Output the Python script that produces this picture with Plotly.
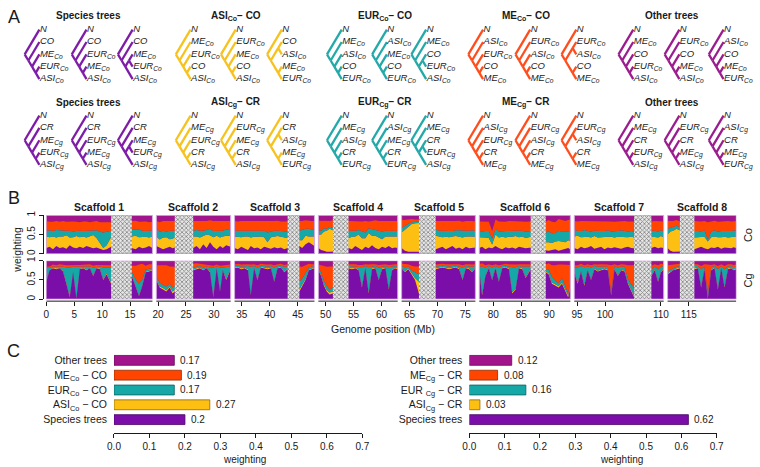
import plotly.graph_objects as go

W, H = 760, 467
FONT = "Liberation Sans, Arial, Helvetica, sans-serif"
INK = "#1a1a1a"

COL_SP = "#7B0DA8"
COL_ASI = "#FDBF12"
COL_EUR = "#15A8A6"
COL_ME = "#FF4500"
COL_OTH = "#A2148C"
EDGE_SP = "#4a0566"
EDGE_ASI = "#8a6a10"
EDGE_EUR = "#0c605f"
EDGE_ME = "#8f2a00"
EDGE_OTH = "#5e0b51"
BORDER = "#D5ACE2"

# ---------------- Panel A: tree topologies (tokens N, C, A=ASI, E=EUR, M=ME)
GROUP_TITLES_CO = ["Species trees", "ASI<sub>Co</sub>− CO", "EUR<sub>Co</sub>− CO", "ME<sub>Co</sub>− CO", "Other trees"]
GROUP_TITLES_CG = ["Species trees", "ASI<sub>Cg</sub>− CR", "EUR<sub>Cg</sub>− CR", "ME<sub>Cg</sub>− CR", "Other trees"]
TREES_SPECIES = [("N", ("C", ("M", ("E", "A")))), ("N", ("C", ("E", ("M", "A")))), ("N", ("C", (("M", "E"), "A")))]
TREES_ASI = [("N", ("M", ("E", ("C", "A")))), ("N", ("E", ("M", ("C", "A")))), ("N", (("C", "A"), ("M", "E")))]
TREES_EUR = [("N", ("M", ("A", ("C", "E")))), ("N", ("A", ("M", ("C", "E")))), ("N", ("M", (("C", "E"), "A")))]
TREES_ME = [("N", ("A", ("E", ("C", "M")))), ("N", ("E", ("A", ("C", "M")))), ("N", (("E", "A"), ("C", "M")))]
TREES_OTHER = [("N", ("M", ("C", ("E", "A")))), ("N", ("E", ("C", ("M", "A")))), ("N", ("A", ("C", ("M", "E"))))]
TREE_GROUPS = [TREES_SPECIES, TREES_ASI, TREES_EUR, TREES_ME, TREES_OTHER]
TREE_COLORS = ["#7E1CA8", "#F7C21C", "#22A9A8", "#FF4D1C", "#9B1C8F"]

# ---------------- Panel B: topology weightings along the genome (Mb)
SCAFFOLD_NAMES = ["Scaffold 1", "Scaffold 2", "Scaffold 3", "Scaffold 4",
                  "Scaffold 5", "Scaffold 6", "Scaffold 7", "Scaffold 8"]
GAP_START = [11.6, 23.0, 43.2, 51.3, 66.7, 86.7, 105.2, 113.4]
GAP_END = [15.3, 26.3, 45.3, 54.1, 69.7, 89.4, 108.3, 116.0]
X_TICKS = [0, 5, 10, 15, 20, 25, 30, 35, 40, 45, 50, 55, 60, 65, 70, 75, 80, 85, 90, 95, 100, 110, 115]

S1_X = [0, 0.6, 1.2, 1.8, 2.4, 3.0, 3.6, 4.2, 4.8, 5.4, 6.0, 6.6, 7.2, 7.8, 8.4, 9.0, 9.6, 10.2, 10.8, 11.6,
        15.3, 16.0, 16.6, 17.2, 17.8, 18.4, 19.0]
S1_CO_SP = [0.15, 0.18, 0.12, 0.20, 0.15, 0.17, 0.13, 0.22, 0.16, 0.14, 0.18, 0.15, 0.20, 0.17, 0.14, 0.16, 0.12, 0.10, 0.12, 0.18, 0.15, 0.12, 0.18, 0.14, 0.16, 0.20, 0.15]
S1_CO_ASI = [0.30, 0.25, 0.33, 0.22, 0.30, 0.28, 0.35, 0.20, 0.27, 0.32, 0.25, 0.30, 0.22, 0.28, 0.35, 0.25, 0.15, 0.05, 0.10, 0.25, 0.30, 0.35, 0.25, 0.30, 0.28, 0.22, 0.30]
S1_CO_EUR = [0.15, 0.18, 0.14, 0.20, 0.16, 0.15, 0.12, 0.18, 0.15, 0.13, 0.17, 0.14, 0.18, 0.15, 0.12, 0.20, 0.30, 0.40, 0.35, 0.17, 0.18, 0.15, 0.20, 0.16, 0.15, 0.18, 0.16]
S1_CO_ME = [0.25, 0.22, 0.24, 0.23, 0.22, 0.25, 0.23, 0.24, 0.26, 0.24, 0.22, 0.25, 0.24, 0.22, 0.23, 0.24, 0.25, 0.27, 0.25, 0.22, 0.22, 0.24, 0.20, 0.23, 0.25, 0.22, 0.22]
S1_CG_SP = [0.45, 0.75, 0.80, 0.78, 0.80, 0.72, 0.40, 0.05, 0.70, 0.02, 0.78, 0.80, 0.75, 0.80, 0.60, 0.80, 0.78, 0.50, 0.65, 0.40, 0.60, 0.30, 0.08, 0.35, 0.70, 0.72, 0.75]
S1_CG_ASI = [0.02, 0.01, 0.02, 0.02, 0.01, 0.02, 0.03, 0.02, 0.02, 0.02, 0.01, 0.02, 0.02, 0.01, 0.02, 0.01, 0.02, 0.02, 0.02, 0.03, 0.02, 0.02, 0.02, 0.02, 0.02, 0.02, 0.02]
S1_CG_EUR = [0.35, 0.05, 0.03, 0.05, 0.04, 0.10, 0.40, 0.75, 0.12, 0.80, 0.05, 0.03, 0.08, 0.04, 0.20, 0.03, 0.05, 0.30, 0.15, 0.40, 0.10, 0.20, 0.30, 0.15, 0.05, 0.05, 0.04]
S1_CG_ME = [0.03, 0.04, 0.05, 0.03, 0.06, 0.05, 0.05, 0.06, 0.05, 0.05, 0.05, 0.04, 0.05, 0.06, 0.05, 0.05, 0.04, 0.06, 0.06, 0.05, 0.15, 0.35, 0.50, 0.40, 0.10, 0.12, 0.10]

S2_X = [19.7, 20.3, 20.9, 21.5, 22.1, 22.6, 23.0, 26.3, 26.9, 27.5, 28.1, 28.7, 29.3, 29.9, 30.5, 31.1, 31.6, 32.2, 33.0]
S2_CO_SP = [0.20, 0.15, 0.12, 0.15, 0.18, 0.14, 0.16, 0.15, 0.20, 0.12, 0.25, 0.15, 0.30, 0.18, 0.12, 0.20, 0.15, 0.22, 0.18]
S2_CO_ASI = [0.25, 0.22, 0.30, 0.28, 0.20, 0.25, 0.27, 0.30, 0.25, 0.30, 0.20, 0.35, 0.18, 0.25, 0.35, 0.22, 0.30, 0.25, 0.28]
S2_CO_EUR = [0.22, 0.20, 0.18, 0.15, 0.22, 0.20, 0.17, 0.15, 0.17, 0.18, 0.15, 0.12, 0.17, 0.16, 0.13, 0.18, 0.15, 0.16, 0.15]
S2_CO_ME = [0.18, 0.25, 0.25, 0.27, 0.25, 0.26, 0.25, 0.25, 0.23, 0.25, 0.25, 0.23, 0.22, 0.26, 0.25, 0.25, 0.24, 0.22, 0.24]
S2_CG_SP = [0.50, 0.30, 0.25, 0.20, 0.30, 0.15, 0.20, 0.75, 0.78, 0.80, 0.75, 0.80, 0.70, 0.05, 0.80, 0.20, 0.75, 0.50, 0.78]
S2_CG_ASI = [0.03, 0.03, 0.04, 0.03, 0.03, 0.05, 0.04, 0.02, 0.02, 0.02, 0.02, 0.01, 0.02, 0.02, 0.02, 0.02, 0.02, 0.03, 0.02]
S2_CG_EUR = [0.05, 0.10, 0.08, 0.10, 0.07, 0.10, 0.10, 0.03, 0.05, 0.04, 0.05, 0.04, 0.10, 0.75, 0.03, 0.60, 0.05, 0.30, 0.05]
S2_CG_ME = [0.30, 0.45, 0.50, 0.55, 0.45, 0.55, 0.50, 0.12, 0.08, 0.06, 0.08, 0.05, 0.06, 0.05, 0.05, 0.05, 0.06, 0.05, 0.05]

S3_X = [33.7, 34.3, 34.9, 35.5, 36.1, 36.6, 37.2, 37.8, 38.4, 39.0, 39.6, 40.2, 40.8, 41.4, 42.0, 42.6, 43.2,
        45.3, 45.8, 46.4, 47.0, 47.5, 48.0]
S3_CO_SP = [0.15, 0.12, 0.18, 0.15, 0.10, 0.20, 0.14, 0.16, 0.12, 0.18, 0.15, 0.13, 0.17, 0.14, 0.16, 0.12, 0.15, 0.20, 0.15, 0.25, 0.30, 0.25, 0.20]
S3_CO_ASI = [0.30, 0.32, 0.25, 0.30, 0.35, 0.22, 0.30, 0.28, 0.33, 0.25, 0.15, 0.30, 0.27, 0.32, 0.28, 0.30, 0.25, 0.15, 0.20, 0.22, 0.15, 0.20, 0.25]
S3_CO_EUR = [0.15, 0.16, 0.17, 0.14, 0.15, 0.17, 0.15, 0.16, 0.15, 0.17, 0.25, 0.15, 0.16, 0.14, 0.15, 0.17, 0.18, 0.25, 0.28, 0.18, 0.20, 0.18, 0.17]
S3_CO_ME = [0.25, 0.24, 0.25, 0.26, 0.25, 0.26, 0.25, 0.24, 0.25, 0.24, 0.30, 0.27, 0.25, 0.26, 0.25, 0.25, 0.26, 0.25, 0.22, 0.22, 0.20, 0.22, 0.23]
S3_CG_SP = [0.80, 0.82, 0.78, 0.80, 0.75, 0.10, 0.80, 0.50, 0.82, 0.80, 0.78, 0.80, 0.45, 0.80, 0.82, 0.70, 0.78, 0.20, 0.35, 0.50, 0.75, 0.78, 0.80]
S3_CG_ASI = [0.02, 0.02, 0.02, 0.02, 0.03, 0.02, 0.02, 0.02, 0.02, 0.02, 0.02, 0.02, 0.02, 0.02, 0.02, 0.02, 0.02, 0.05, 0.04, 0.03, 0.02, 0.02, 0.02]
S3_CG_EUR = [0.04, 0.03, 0.05, 0.04, 0.08, 0.72, 0.04, 0.30, 0.03, 0.04, 0.05, 0.04, 0.35, 0.04, 0.03, 0.12, 0.05, 0.20, 0.15, 0.15, 0.05, 0.05, 0.04]
S3_CG_ME = [0.04, 0.05, 0.05, 0.05, 0.05, 0.06, 0.05, 0.06, 0.05, 0.05, 0.05, 0.05, 0.06, 0.05, 0.05, 0.05, 0.06, 0.40, 0.30, 0.20, 0.10, 0.06, 0.05]

S4_X = [48.7, 49.2, 49.7, 50.2, 50.7, 51.3, 54.1, 54.7, 55.3, 55.9, 56.5, 57.1, 57.7, 58.3, 58.9, 59.5, 60.1,
        60.7, 61.3, 61.9, 62.4, 62.9]
S4_CO_SP = [0.15, 0.10, 0.08, 0.05, 0.05, 0.06, 0.15, 0.12, 0.20, 0.15, 0.10, 0.18, 0.14, 0.22, 0.15, 0.12, 0.18, 0.15, 0.20, 0.14, 0.16, 0.15]
S4_CO_ASI = [0.35, 0.40, 0.50, 0.55, 0.60, 0.55, 0.25, 0.32, 0.25, 0.35, 0.30, 0.22, 0.40, 0.25, 0.32, 0.30, 0.20, 0.30, 0.25, 0.30, 0.28, 0.30]
S4_CO_EUR = [0.12, 0.10, 0.08, 0.05, 0.05, 0.06, 0.20, 0.16, 0.15, 0.12, 0.18, 0.15, 0.12, 0.16, 0.15, 0.18, 0.20, 0.15, 0.14, 0.16, 0.15, 0.15]
S4_CO_ME = [0.25, 0.25, 0.20, 0.20, 0.15, 0.20, 0.25, 0.25, 0.25, 0.22, 0.26, 0.30, 0.18, 0.22, 0.25, 0.25, 0.27, 0.25, 0.25, 0.24, 0.26, 0.25]
S4_CG_SP = [0.75, 0.60, 0.35, 0.20, 0.12, 0.15, 0.80, 0.78, 0.80, 0.75, 0.30, 0.80, 0.15, 0.78, 0.80, 0.50, 0.78, 0.80, 0.25, 0.75, 0.80, 0.78]
S4_CG_ASI = [0.02, 0.03, 0.04, 0.04, 0.05, 0.05, 0.02, 0.02, 0.02, 0.02, 0.03, 0.02, 0.03, 0.02, 0.02, 0.02, 0.02, 0.02, 0.03, 0.02, 0.02, 0.02]
S4_CG_EUR = [0.05, 0.07, 0.08, 0.10, 0.08, 0.10, 0.04, 0.05, 0.03, 0.06, 0.50, 0.04, 0.65, 0.05, 0.04, 0.30, 0.05, 0.04, 0.55, 0.08, 0.04, 0.05]
S4_CG_ME = [0.08, 0.18, 0.40, 0.50, 0.60, 0.55, 0.05, 0.06, 0.06, 0.06, 0.06, 0.05, 0.07, 0.06, 0.05, 0.07, 0.06, 0.05, 0.06, 0.06, 0.05, 0.06]

S5_X = [63.6, 64.2, 64.8, 65.4, 66.0, 66.7, 69.7, 70.3, 70.9, 71.5, 72.1, 72.7, 73.3, 73.9, 74.5, 75.1, 75.7, 76.2, 76.8]
S5_CO_SP = [0.15, 0.08, 0.05, 0.05, 0.04, 0.05, 0.12, 0.15, 0.18, 0.12, 0.15, 0.20, 0.13, 0.16, 0.12, 0.18, 0.14, 0.15, 0.16]
S5_CO_ASI = [0.40, 0.55, 0.65, 0.72, 0.75, 0.75, 0.35, 0.30, 0.25, 0.32, 0.28, 0.25, 0.33, 0.28, 0.30, 0.27, 0.32, 0.30, 0.28]
S5_CO_EUR = [0.12, 0.10, 0.08, 0.05, 0.04, 0.04, 0.16, 0.15, 0.17, 0.15, 0.16, 0.14, 0.15, 0.17, 0.18, 0.15, 0.14, 0.16, 0.15]
S5_CO_ME = [0.20, 0.15, 0.10, 0.08, 0.06, 0.05, 0.22, 0.25, 0.24, 0.26, 0.25, 0.25, 0.24, 0.25, 0.23, 0.25, 0.26, 0.24, 0.25]
S5_CG_SP = [0.80, 0.70, 0.78, 0.65, 0.50, 0.15, 0.78, 0.80, 0.82, 0.80, 0.78, 0.80, 0.82, 0.78, 0.50, 0.80, 0.78, 0.70, 0.80]
S5_CG_ASI = [0.02, 0.02, 0.02, 0.02, 0.05, 0.30, 0.02, 0.02, 0.02, 0.02, 0.02, 0.02, 0.02, 0.02, 0.02, 0.02, 0.02, 0.02, 0.02]
S5_CG_EUR = [0.04, 0.10, 0.05, 0.08, 0.15, 0.20, 0.05, 0.04, 0.03, 0.04, 0.05, 0.04, 0.03, 0.05, 0.30, 0.04, 0.05, 0.12, 0.04]
S5_CG_ME = [0.06, 0.10, 0.06, 0.12, 0.15, 0.20, 0.06, 0.05, 0.05, 0.05, 0.06, 0.05, 0.05, 0.06, 0.06, 0.05, 0.06, 0.06, 0.05]

S6_X = [77.5, 78.0, 78.6, 79.2, 79.8, 80.4, 81.0, 81.6, 82.2, 82.8, 83.4, 84.0, 84.6, 85.2, 85.8, 86.7,
        89.4, 89.9, 90.5, 91.1, 91.7, 92.3, 92.9, 93.4, 93.8]
S6_CO_SP = [0.15, 0.18, 0.12, 0.16, 0.14, 0.20, 0.15, 0.12, 0.17, 0.14, 0.16, 0.13, 0.18, 0.15, 0.14, 0.16, 0.10, 0.08, 0.10, 0.12, 0.08, 0.10, 0.12, 0.15, 0.12]
S6_CO_ASI = [0.28, 0.25, 0.30, 0.25, 0.10, 0.30, 0.27, 0.32, 0.25, 0.30, 0.28, 0.33, 0.25, 0.30, 0.27, 0.28, 0.20, 0.22, 0.18, 0.20, 0.25, 0.22, 0.18, 0.20, 0.22]
S6_CO_EUR = [0.16, 0.15, 0.17, 0.18, 0.15, 0.15, 0.16, 0.15, 0.17, 0.15, 0.16, 0.14, 0.17, 0.15, 0.16, 0.15, 0.25, 0.28, 0.25, 0.22, 0.27, 0.25, 0.27, 0.24, 0.25]
S6_CO_ME = [0.25, 0.26, 0.25, 0.24, 0.20, 0.24, 0.26, 0.25, 0.24, 0.26, 0.25, 0.24, 0.25, 0.24, 0.26, 0.25, 0.28, 0.30, 0.30, 0.28, 0.30, 0.30, 0.28, 0.29, 0.30]
S6_CG_SP = [0.75, 0.10, 0.60, 0.80, 0.50, 0.80, 0.45, 0.80, 0.82, 0.78, 0.15, 0.25, 0.80, 0.78, 0.55, 0.78, 0.70, 0.65, 0.40, 0.35, 0.30, 0.40, 0.20, 0.05, 0.30]
S6_CG_ASI = [0.02, 0.05, 0.02, 0.02, 0.02, 0.02, 0.02, 0.02, 0.02, 0.02, 0.03, 0.03, 0.02, 0.02, 0.02, 0.02, 0.02, 0.03, 0.03, 0.03, 0.04, 0.03, 0.04, 0.05, 0.04]
S6_CG_EUR = [0.08, 0.70, 0.20, 0.04, 0.30, 0.04, 0.35, 0.04, 0.03, 0.05, 0.65, 0.55, 0.04, 0.05, 0.28, 0.05, 0.06, 0.10, 0.15, 0.10, 0.08, 0.12, 0.10, 0.05, 0.10]
S6_CG_ME = [0.06, 0.08, 0.06, 0.05, 0.06, 0.05, 0.06, 0.05, 0.05, 0.06, 0.07, 0.07, 0.05, 0.06, 0.06, 0.06, 0.12, 0.15, 0.30, 0.40, 0.48, 0.35, 0.55, 0.75, 0.45]

S7_X = [94.5, 95.1, 95.7, 96.3, 96.9, 97.5, 98.1, 98.7, 99.3, 99.9, 100.5, 101.1, 101.7, 102.3, 102.9, 103.5,
        104.1, 104.7, 105.2, 108.3, 108.9, 109.5, 110.0, 110.5]
S7_CO_SP = [0.15, 0.12, 0.18, 0.14, 0.16, 0.20, 0.13, 0.15, 0.18, 0.12, 0.16, 0.14, 0.17, 0.15, 0.13, 0.16, 0.18, 0.15, 0.14, 0.15, 0.18, 0.14, 0.16, 0.15]
S7_CO_ASI = [0.30, 0.35, 0.25, 0.30, 0.28, 0.22, 0.33, 0.27, 0.25, 0.32, 0.28, 0.30, 0.25, 0.29, 0.31, 0.28, 0.25, 0.30, 0.28, 0.30, 0.25, 0.28, 0.30, 0.28]
S7_CO_EUR = [0.18, 0.12, 0.16, 0.18, 0.15, 0.16, 0.14, 0.17, 0.16, 0.15, 0.17, 0.14, 0.16, 0.15, 0.17, 0.16, 0.15, 0.14, 0.16, 0.15, 0.17, 0.16, 0.15, 0.16]
S7_CO_ME = [0.22, 0.25, 0.26, 0.23, 0.25, 0.26, 0.24, 0.25, 0.26, 0.25, 0.24, 0.26, 0.25, 0.25, 0.24, 0.25, 0.26, 0.25, 0.25, 0.24, 0.25, 0.26, 0.24, 0.25]
S7_CG_SP = [0.70, 0.40, 0.72, 0.35, 0.75, 0.50, 0.78, 0.72, 0.75, 0.78, 0.75, 0.10, 0.78, 0.60, 0.75, 0.72, 0.40, 0.20, 0.05, 0.60, 0.75, 0.45, 0.70, 0.78]
S7_CG_ASI = [0.02, 0.03, 0.02, 0.03, 0.02, 0.02, 0.02, 0.02, 0.02, 0.02, 0.02, 0.03, 0.02, 0.02, 0.02, 0.02, 0.03, 0.03, 0.04, 0.02, 0.02, 0.03, 0.02, 0.02]
S7_CG_EUR = [0.10, 0.40, 0.12, 0.45, 0.08, 0.30, 0.06, 0.10, 0.08, 0.05, 0.07, 0.05, 0.06, 0.20, 0.08, 0.10, 0.10, 0.15, 0.20, 0.15, 0.08, 0.30, 0.12, 0.06]
S7_CG_ME = [0.06, 0.05, 0.06, 0.05, 0.06, 0.06, 0.05, 0.06, 0.06, 0.06, 0.06, 0.70, 0.05, 0.06, 0.06, 0.06, 0.35, 0.50, 0.60, 0.10, 0.06, 0.10, 0.08, 0.05]

S8_X = [111.2, 111.7, 112.2, 112.8, 113.4, 116.0, 116.6, 117.2, 117.8, 118.4, 119.0, 119.6, 120.2, 120.8, 121.4, 122.0, 122.6, 123.0, 123.5]
S8_CO_SP = [0.15, 0.08, 0.05, 0.05, 0.06, 0.12, 0.15, 0.18, 0.14, 0.12, 0.16, 0.15, 0.18, 0.13, 0.16, 0.15, 0.14, 0.17, 0.15]
S8_CO_ASI = [0.35, 0.50, 0.55, 0.60, 0.55, 0.30, 0.28, 0.25, 0.30, 0.20, 0.27, 0.30, 0.25, 0.30, 0.28, 0.27, 0.30, 0.28, 0.30]
S8_CO_EUR = [0.15, 0.10, 0.10, 0.08, 0.08, 0.17, 0.16, 0.15, 0.17, 0.05, 0.15, 0.16, 0.14, 0.16, 0.15, 0.17, 0.15, 0.16, 0.15]
S8_CO_ME = [0.20, 0.17, 0.15, 0.15, 0.15, 0.26, 0.25, 0.26, 0.24, 0.45, 0.26, 0.25, 0.26, 0.25, 0.25, 0.26, 0.25, 0.24, 0.25]
S8_CG_SP = [0.65, 0.70, 0.75, 0.78, 0.80, 0.78, 0.80, 0.30, 0.78, 0.02, 0.75, 0.80, 0.25, 0.80, 0.30, 0.78, 0.80, 0.75, 0.78]
S8_CG_ASI = [0.03, 0.02, 0.02, 0.02, 0.02, 0.02, 0.02, 0.03, 0.02, 0.03, 0.02, 0.02, 0.03, 0.02, 0.03, 0.02, 0.02, 0.02, 0.02]
S8_CG_EUR = [0.05, 0.05, 0.04, 0.04, 0.04, 0.05, 0.04, 0.45, 0.05, 0.10, 0.06, 0.04, 0.50, 0.04, 0.45, 0.05, 0.04, 0.06, 0.05]
S8_CG_ME = [0.15, 0.12, 0.10, 0.08, 0.06, 0.06, 0.05, 0.08, 0.06, 0.75, 0.06, 0.05, 0.08, 0.05, 0.08, 0.06, 0.05, 0.06, 0.05]

# ---------------- Panel C: mean weightings
BAR_CATS_CO = ["Species trees", "ASI<sub>Co</sub> − CO", "EUR<sub>Co</sub> − CO", "ME<sub>Co</sub> − CO", "Other trees"]
BAR_VALS_CO = [0.2, 0.27, 0.17, 0.19, 0.17]
BAR_CATS_CG = ["Species trees", "ASI<sub>Cg</sub> − CR", "EUR <sub>Cg</sub> − CR", "ME<sub>Cg</sub> − CR", "Other trees"]
BAR_VALS_CG = [0.62, 0.03, 0.16, 0.08, 0.12]
BAR_TICKS = [0.0, 0.1, 0.2, 0.3, 0.4, 0.5, 0.6, 0.7]

# ---------------------------------------------------------------------------
SCAFFOLDS = [
    (S1_X, [S1_CO_SP, S1_CO_ASI, S1_CO_EUR, S1_CO_ME], [S1_CG_SP, S1_CG_ASI, S1_CG_EUR, S1_CG_ME]),
    (S2_X, [S2_CO_SP, S2_CO_ASI, S2_CO_EUR, S2_CO_ME], [S2_CG_SP, S2_CG_ASI, S2_CG_EUR, S2_CG_ME]),
    (S3_X, [S3_CO_SP, S3_CO_ASI, S3_CO_EUR, S3_CO_ME], [S3_CG_SP, S3_CG_ASI, S3_CG_EUR, S3_CG_ME]),
    (S4_X, [S4_CO_SP, S4_CO_ASI, S4_CO_EUR, S4_CO_ME], [S4_CG_SP, S4_CG_ASI, S4_CG_EUR, S4_CG_ME]),
    (S5_X, [S5_CO_SP, S5_CO_ASI, S5_CO_EUR, S5_CO_ME], [S5_CG_SP, S5_CG_ASI, S5_CG_EUR, S5_CG_ME]),
    (S6_X, [S6_CO_SP, S6_CO_ASI, S6_CO_EUR, S6_CO_ME], [S6_CG_SP, S6_CG_ASI, S6_CG_EUR, S6_CG_ME]),
    (S7_X, [S7_CO_SP, S7_CO_ASI, S7_CO_EUR, S7_CO_ME], [S7_CG_SP, S7_CG_ASI, S7_CG_EUR, S7_CG_ME]),
    (S8_X, [S8_CO_SP, S8_CO_ASI, S8_CO_EUR, S8_CO_ME], [S8_CG_SP, S8_CG_ASI, S8_CG_EUR, S8_CG_ME]),
]
STACK_COLORS = [COL_SP, COL_ASI, COL_EUR, COL_ME]


def pxx(v):
    return v / W


def pyy(v):
    return 1 - v / H


fig = go.Figure()
annotations = []
shapes = []

# ---------------- Panel A
ROOT_X = [[18, 66, 113], [172, 218, 265], [326, 372, 412], [470, 518, 565], [623, 670, 715]]
ROW_TOP = [25, 112]
TITLE_Y = [11, 99]
TITLE_X = [83, 233, 385, 529, 677]
DX = 15 / 4
DY = 12.5


def ntips(t):
    return 1 if isinstance(t, str) else sum(ntips(c) for c in t)


def clado(tree):
    total = ntips(tree)
    edges, tips = [], []
    counter = [0]

    def rec(t):
        if isinstance(t, str):
            y = counter[0]
            counter[0] += 1
            tips.append((t, total - 1, y))
            return (total - 1, y, y, y)
        kids = [rec(c) for c in t]
        ymin = min(k[1] for k in kids)
        ymax = max(k[2] for k in kids)
        x = total - ntips(t)
        y = (ymin + ymax) / 2
        for k in kids:
            edges.append(((x, y), (k[0], k[3])))
        return (x, ymin, ymax, y)

    rec(tree)
    return edges, tips, total


def tip_label(tok, row):
    sub = "Co" if row == 0 else "Cg"
    if tok == "N":
        s = "N"
    elif tok == "C":
        s = "CO" if row == 0 else "CR"
    else:
        s = {"A": "ASI", "E": "EUR", "M": "ME"}[tok] + "<sub>" + sub + "</sub>"
    return "<i>" + s + "</i>"


for row in range(2):
    titles = GROUP_TITLES_CO if row == 0 else GROUP_TITLES_CG
    for g in range(5):
        annotations.append(dict(x=pxx(TITLE_X[g]), y=pyy(TITLE_Y[row]), xref="paper", yref="paper",
                                text="<b>" + titles[g] + "</b>", showarrow=False,
                                xanchor="center", yanchor="middle",
                                font=dict(size=10, color=INK, family=FONT)))
        for t in range(3):
            edges, tips, total = clado(TREE_GROUPS[g][t])
            rx = ROOT_X[g][t]
            ty = ROW_TOP[row]
            xs, ys = [], []
            for (x0, y0), (x1, y1) in edges:
                xs += [rx + x0 * DX, rx + x1 * DX, None]
                ys += [ty + y0 * DY, ty + y1 * DY, None]
            fig.add_trace(go.Scatter(x=xs, y=ys, mode="lines", xaxis="x", yaxis="y",
                                     line=dict(color=TREE_COLORS[g], width=2.3),
                                     hoverinfo="skip", showlegend=False))
            fig.add_trace(go.Scatter(x=[rx + (total - 1) * DX + 0.5] * len(tips),
                                     y=[ty + tp[2] * DY for tp in tips],
                                     text=[tip_label(tp[0], row) for tp in tips],
                                     mode="text", textposition="middle right",
                                     xaxis="x", yaxis="y", cliponaxis=False,
                                     textfont=dict(size=9.5, color=INK, family=FONT),
                                     hoverinfo="skip", showlegend=False))

# ---------------- Panel B
for i, (xs, co, cg) in enumerate(SCAFFOLDS):
    x0, x1 = xs[0], xs[-1]
    for ya, series, tag in (("y2", co, "co"), ("y3", cg, "cg")):
        shapes.append(dict(type="rect", xref="x2", yref=ya, x0=x0, x1=x1, y0=0, y1=1,
                           fillcolor=COL_OTH, line=dict(width=0), layer="below"))
        for k in range(4):
            fig.add_trace(go.Scatter(x=xs, y=series[k], xaxis="x2", yaxis=ya, mode="lines",
                                     stackgroup=f"{tag}{i}", line=dict(width=0),
                                     fillcolor=STACK_COLORS[k], hoverinfo="skip",
                                     showlegend=False))
        a, b = GAP_START[i], GAP_END[i]
        fig.add_trace(go.Scatter(x=[a, b, b, a, a], y=[0, 0, 1, 1, 0], xaxis="x2", yaxis=ya,
                                 mode="lines", fill="toself", line=dict(width=0),
                                 fillcolor="#bdbdbd",
                                 fillpattern=dict(shape="x", fgcolor="#1e1e1e", bgcolor="#e6e6e6",
                                                  size=3, solidity=0.45),
                                 hoverinfo="skip", showlegend=False))
        shapes.append(dict(type="rect", xref="x2", yref=ya, x0=x0, x1=x1, y0=0, y1=1,
                           fillcolor="rgba(0,0,0,0)", line=dict(width=1, color=BORDER), layer="above"))
    # axis segment
    shapes.append(dict(type="line", xref="x2", yref="paper", x0=x0, x1=x1,
                       y0=pyy(300), y1=pyy(300), line=dict(width=1, color=INK)))
    annotations.append(dict(x=(x0 + x1) / 2, y=pyy(205), xref="x2", yref="paper",
                            text="<b>" + SCAFFOLD_NAMES[i] + "</b>", showarrow=False,
                            xanchor="center", yanchor="middle",
                            font=dict(size=10.5, color=INK, family=FONT)))

annotations.append(dict(x=pxx(10), y=pyy(248), xref="paper", yref="paper", text="weighting",
                        textangle=-90, showarrow=False, xanchor="center", yanchor="middle",
                        font=dict(size=10.5, color=INK, family=FONT)))
annotations.append(dict(x=pxx(755), y=pyy(233), xref="paper", yref="paper", text="Co",
                        textangle=-90, showarrow=False, xanchor="center", yanchor="middle",
                        font=dict(size=11, color=INK, family=FONT)))
annotations.append(dict(x=pxx(755), y=pyy(279), xref="paper", yref="paper", text="Cg",
                        textangle=-90, showarrow=False, xanchor="center", yanchor="middle",
                        font=dict(size=11, color=INK, family=FONT)))
annotations.append(dict(x=pxx(383), y=pyy(328), xref="paper", yref="paper", text="Genome position (Mb)",
                        showarrow=False, xanchor="center", yanchor="middle",
                        font=dict(size=10.5, color=INK, family=FONT)))

# ---------------- Panel C
for xa, ya, cats, vals in (("x4", "y4", BAR_CATS_CO, BAR_VALS_CO), ("x5", "y5", BAR_CATS_CG, BAR_VALS_CG)):
    fig.add_trace(go.Bar(x=vals, y=list(range(len(vals))), orientation="h", width=0.667,
                         xaxis=xa, yaxis=ya,
                         marker=dict(color=[COL_SP, COL_ASI, COL_EUR, COL_ME, COL_OTH],
                                     line=dict(color=[EDGE_SP, EDGE_ASI, EDGE_EUR, EDGE_ME, EDGE_OTH], width=0.8)),
                         hoverinfo="skip", showlegend=False))
    for j, v in enumerate(vals):
        annotations.append(dict(x=v, y=j, xref=xa, yref=ya, text=str(v), showarrow=False,
                                xanchor="left", yanchor="middle", xshift=4,
                                font=dict(size=10, color=INK, family=FONT)))

annotations.append(dict(x=pxx(242), y=pyy(460), xref="paper", yref="paper", text="weighting",
                        showarrow=False, xanchor="center", yanchor="middle",
                        font=dict(size=10, color=INK, family=FONT)))
annotations.append(dict(x=pxx(626), y=pyy(460), xref="paper", yref="paper", text="weighting",
                        showarrow=False, xanchor="center", yanchor="middle",
                        font=dict(size=10, color=INK, family=FONT)))

# panel letters
for letter, yy in (("A", 12), ("B", 196), ("C", 350)):
    annotations.append(dict(x=pxx(7), y=pyy(yy), xref="paper", yref="paper", text=letter,
                            showarrow=False, xanchor="center", yanchor="middle",
                            font=dict(size=18, color=INK, family=FONT)))

axis_common = dict(showgrid=False, zeroline=False, fixedrange=True)
bar_x = dict(range=[0, 0.7], tickvals=BAR_TICKS, ticktext=[f"{t:.1f}" for t in BAR_TICKS],
             ticks="outside", ticklen=4, tickcolor=INK, showline=True, linecolor=INK, linewidth=1,
             tickfont=dict(size=10, color=INK, family=FONT), **axis_common)
bar_y_dom = [pyy(433.5), pyy(351)]

fig.update_layout(
    width=W, height=H,
    margin=dict(l=0, r=0, t=0, b=0),
    paper_bgcolor="white", plot_bgcolor="rgba(0,0,0,0)",
    showlegend=False,
    font=dict(family=FONT, color=INK),
    xaxis=dict(domain=[0, 1], range=[0, W], visible=False, **axis_common),
    yaxis=dict(domain=[0, 1], range=[H, 0], visible=False, **axis_common),
    xaxis2=dict(domain=[pxx(40), pxx(743)], range=[0, 123.5], anchor="free", position=pyy(300),
                tickvals=X_TICKS, ticks="outside", ticklen=4, tickcolor=INK, showline=False,
                tickfont=dict(size=10, color=INK, family=FONT), **axis_common),
    yaxis2=dict(domain=[pyy(252), pyy(213)], range=[0, 1], anchor="free", position=pxx(37),
                tickvals=[0, 0.5, 1], ticktext=["0", "0.5", "1"], tickangle=-90,
                ticks="outside", ticklen=4, tickcolor=INK, showline=True, linecolor=INK,
                tickfont=dict(size=10, color=INK, family=FONT), **axis_common),
    yaxis3=dict(domain=[pyy(298), pyy(259)], range=[0, 1], anchor="free", position=pxx(37),
                tickvals=[0, 0.5, 1], ticktext=["0", "0.5", "1"], tickangle=-90,
                ticks="outside", ticklen=4, tickcolor=INK, showline=True, linecolor=INK,
                tickfont=dict(size=10, color=INK, family=FONT), **axis_common),
    xaxis4=dict(domain=[pxx(109), pxx(362)], anchor="y4", **bar_x),
    yaxis4=dict(domain=bar_y_dom, anchor="x4", range=[-0.9, 4.6], tickvals=list(range(5)),
                ticktext=BAR_CATS_CO, ticks="", showline=False, ticklabelstandoff=6,
                tickfont=dict(size=10.5, color=INK, family=FONT), **axis_common),
    xaxis5=dict(domain=[pxx(471), pxx(723)], anchor="y5", **bar_x),
    yaxis5=dict(domain=bar_y_dom, anchor="x5", range=[-0.9, 4.6], tickvals=list(range(5)),
                ticktext=BAR_CATS_CG, ticks="", showline=False, ticklabelstandoff=6,
                tickfont=dict(size=10.5, color=INK, family=FONT), **axis_common),
    annotations=annotations,
    shapes=shapes,
)

fig.write_html("out.html", config={"displayModeBar": False},
               post_script="document.body.style.margin='0';document.body.style.padding='0';"
                           "document.body.style.overflow='hidden';")
